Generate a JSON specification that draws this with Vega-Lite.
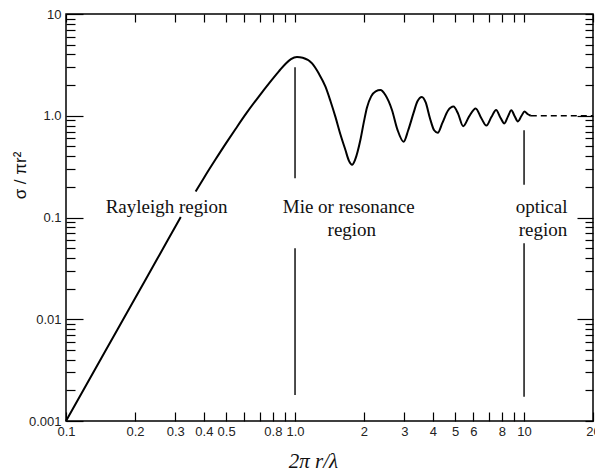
{
  "$schema": "https://vega.github.io/schema/vega-lite/v6.json",
  "width": 527,
  "height": 407,
  "autosize": "none",
  "padding": {"left": 66, "top": 14, "right": 2, "bottom": 54},
  "background": "white",
  "config": {
    "view": {"stroke": "black", "strokeWidth": 1.5},
    "axis": {"domain": false, "grid": false, "tickColor": "black", "tickWidth": 1.2, "labelColor": "#222", "labelFont": "Liberation Sans", "labelFontSize": 13, "labelOverlap": false, "labelFlush": false}
  },
  "datasets": {
    "curve": [
      {"seg": 1, "x": 0.1, "y": 0.001},
      {"seg": 1, "x": 0.15, "y": 0.00506},
      {"seg": 1, "x": 0.2, "y": 0.016},
      {"seg": 1, "x": 0.25, "y": 0.039},
      {"seg": 1, "x": 0.3, "y": 0.081},
      {"seg": 1, "x": 0.317, "y": 0.101},
      {"seg": 2, "x": 0.368, "y": 0.18},
      {"seg": 2, "x": 0.4, "y": 0.245},
      {"seg": 2, "x": 0.45, "y": 0.373},
      {"seg": 2, "x": 0.5, "y": 0.538},
      {"seg": 2, "x": 0.55, "y": 0.741},
      {"seg": 2, "x": 0.608, "y": 1.03},
      {"seg": 2, "x": 0.7, "y": 1.58},
      {"seg": 2, "x": 0.77, "y": 2.08},
      {"seg": 2, "x": 0.85, "y": 2.73},
      {"seg": 2, "x": 0.91, "y": 3.25},
      {"seg": 2, "x": 0.96, "y": 3.6},
      {"seg": 2, "x": 1.02, "y": 3.78},
      {"seg": 2, "x": 1.08, "y": 3.72},
      {"seg": 2, "x": 1.187, "y": 3.27},
      {"seg": 2, "x": 1.27, "y": 2.6},
      {"seg": 2, "x": 1.358, "y": 1.93},
      {"seg": 2, "x": 1.43, "y": 1.38},
      {"seg": 2, "x": 1.5, "y": 0.98},
      {"seg": 2, "x": 1.58, "y": 0.65},
      {"seg": 2, "x": 1.66, "y": 0.46},
      {"seg": 2, "x": 1.72, "y": 0.36},
      {"seg": 2, "x": 1.775, "y": 0.33},
      {"seg": 2, "x": 1.83, "y": 0.37},
      {"seg": 2, "x": 1.93, "y": 0.58},
      {"seg": 2, "x": 2.0, "y": 0.88},
      {"seg": 2, "x": 2.06, "y": 1.2},
      {"seg": 2, "x": 2.15, "y": 1.55},
      {"seg": 2, "x": 2.25, "y": 1.74},
      {"seg": 2, "x": 2.36, "y": 1.79},
      {"seg": 2, "x": 2.48, "y": 1.6},
      {"seg": 2, "x": 2.65, "y": 1.14},
      {"seg": 2, "x": 2.8, "y": 0.73},
      {"seg": 2, "x": 2.98, "y": 0.555},
      {"seg": 2, "x": 3.12, "y": 0.72},
      {"seg": 2, "x": 3.29, "y": 1.06},
      {"seg": 2, "x": 3.42, "y": 1.38},
      {"seg": 2, "x": 3.58, "y": 1.53},
      {"seg": 2, "x": 3.72, "y": 1.35},
      {"seg": 2, "x": 3.88, "y": 0.95},
      {"seg": 2, "x": 4.05, "y": 0.72},
      {"seg": 2, "x": 4.2, "y": 0.68},
      {"seg": 2, "x": 4.4, "y": 0.85},
      {"seg": 2, "x": 4.65, "y": 1.12},
      {"seg": 2, "x": 4.92, "y": 1.23},
      {"seg": 2, "x": 5.15, "y": 1.05},
      {"seg": 2, "x": 5.42, "y": 0.79},
      {"seg": 2, "x": 5.75, "y": 0.98},
      {"seg": 2, "x": 6.15, "y": 1.18},
      {"seg": 2, "x": 6.5, "y": 0.95},
      {"seg": 2, "x": 6.85, "y": 0.8},
      {"seg": 2, "x": 7.2, "y": 0.97},
      {"seg": 2, "x": 7.55, "y": 1.14},
      {"seg": 2, "x": 7.9, "y": 0.95},
      {"seg": 2, "x": 8.2, "y": 0.84},
      {"seg": 2, "x": 8.5, "y": 0.98},
      {"seg": 2, "x": 8.8, "y": 1.13},
      {"seg": 2, "x": 9.1, "y": 0.99},
      {"seg": 2, "x": 9.4, "y": 0.88},
      {"seg": 2, "x": 9.75, "y": 1.0},
      {"seg": 2, "x": 10.05, "y": 1.1},
      {"seg": 2, "x": 10.35, "y": 1.04},
      {"seg": 2, "x": 10.7, "y": 1.0}
    ],
    "dashed": [
      {"x": 10.7, "y": 1.0},
      {"x": 20, "y": 1.0}
    ],
    "rules": [
      {"x": 1, "y": 3.0, "y2": 0.243},
      {"x": 1, "y": 0.05, "y2": 0.0018},
      {"x": 10, "y": 0.72, "y2": 0.21},
      {"x": 10, "y": 0.0557, "y2": 0.00173}
    ],
    "labels": [
      {"text": "Rayleigh region", "x": 0.275, "y": 0.1106},
      {"text": "Mie or resonance", "x": 1.715, "y": 0.1106},
      {"text": "region", "x": 1.77, "y": 0.0658},
      {"text": "optical", "x": 11.93, "y": 0.1106},
      {"text": "region", "x": 12.1, "y": 0.0658}
    ]
  },
  "layer": [
    {
      "data": {"name": "curve"},
      "mark": {"type": "line", "color": "black", "strokeWidth": 2, "interpolate": "monotone"},
      "encoding": {
        "x": {
          "field": "x", "type": "quantitative",
          "scale": {"type": "log", "domain": [0.1, 20], "nice": false},
          "axis": {
            "orient": "bottom",
            "values": [0.1, 0.2, 0.3, 0.4, 0.5, 0.6, 0.7, 0.8, 0.9, 1, 2, 3, 4, 5, 6, 7, 8, 9, 10, 20],
            "tickSize": -9,
            "labelPadding": 13,
            "labelExpr": "datum.value == 1 ? '1.0' : (indexof([0.6, 0.7, 0.9, 7, 9], datum.value) >= 0 ? '' : '' + datum.value)",
            "title": "2π r/λ",
            "titleFont": "Liberation Serif",
            "titleFontSize": 21,
            "titleFontWeight": "normal",
            "titleFontStyle": "italic",
            "titleColor": "#111",
            "titleX": 247,
            "titleY": 40,
            "titleBaseline": "middle",
            "titleAlign": "center"
          }
        },
        "y": {
          "field": "y", "type": "quantitative",
          "scale": {"type": "log", "domain": [0.001, 10], "nice": false},
          "axis": {
            "orient": "left",
            "values": [0.001, 0.002, 0.003, 0.004, 0.005, 0.006, 0.007, 0.008, 0.009, 0.01, 0.02, 0.03, 0.04, 0.05, 0.06, 0.07, 0.08, 0.09, 0.1, 0.2, 0.3, 0.4, 0.5, 0.6, 0.7, 0.8, 0.9, 1, 2, 3, 4, 5, 6, 7, 8, 9, 10],
            "tickSize": {"condition": {"test": "datum.value == 0.001 || datum.value == 0.01 || datum.value == 0.1 || datum.value == 1 || datum.value == 10", "value": -17}, "value": -9},
            "labelPadding": 22,
            "labelExpr": "datum.value == 0.001 ? '0.001' : datum.value == 0.01 ? '0.01' : datum.value == 0.1 ? '0.1' : datum.value == 1 ? '1.0' : datum.value == 10 ? '10' : ''",
            "title": "σ / πr²",
            "titleFont": "Liberation Sans",
            "titleFontSize": 17,
            "titleFontWeight": "normal",
            "titleColor": "#111",
            "titleX": -46,
            "titleY": 161,
            "titleAlign": "center",
            "titleBaseline": "middle"
          }
        },
        "detail": {"field": "seg", "type": "nominal"}
      }
    },
    {
      "data": {"name": "dashed"},
      "mark": {"type": "line", "color": "black", "strokeWidth": 1.6, "strokeDash": [6, 4]},
      "encoding": {
        "x": {
          "field": "x", "type": "quantitative",
          "scale": {"type": "log", "domain": [0.1, 20], "nice": false},
          "axis": {
            "orient": "top",
            "values": [0.1, 0.2, 0.3, 0.4, 0.5, 0.6, 0.7, 0.8, 0.9, 1, 2, 3, 4, 5, 6, 7, 8, 9, 10, 20],
            "tickSize": -8,
            "labels": false,
            "title": null
          }
        },
        "y": {
          "field": "y", "type": "quantitative",
          "scale": {"type": "log", "domain": [0.001, 10], "nice": false},
          "axis": null
        }
      }
    },
    {
      "data": {"name": "rules"},
      "mark": {"type": "rule", "color": "black", "strokeWidth": 1.4},
      "encoding": {
        "x": {"field": "x", "type": "quantitative", "scale": {"type": "log", "domain": [0.1, 20], "nice": false}, "axis": null},
        "y": {
          "field": "y", "type": "quantitative",
          "scale": {"type": "log", "domain": [0.001, 10], "nice": false},
          "axis": {
            "orient": "right",
            "values": [0.001, 0.002, 0.003, 0.004, 0.005, 0.006, 0.007, 0.008, 0.009, 0.01, 0.02, 0.03, 0.04, 0.05, 0.06, 0.07, 0.08, 0.09, 0.1, 0.2, 0.3, 0.4, 0.5, 0.6, 0.7, 0.8, 0.9, 1, 2, 3, 4, 5, 6, 7, 8, 9, 10],
            "tickSize": {"condition": {"test": "datum.value == 0.01 || datum.value == 0.1 || datum.value == 1", "value": -16}, "value": -8},
            "labels": false,
            "title": null
          }
        },
        "y2": {"field": "y2"}
      }
    },
    {
      "data": {"name": "labels"},
      "mark": {"type": "text", "font": "Liberation Serif", "fontSize": 19, "color": "#111", "align": "center", "baseline": "alphabetic"},
      "encoding": {
        "x": {"field": "x", "type": "quantitative", "scale": {"type": "log", "domain": [0.1, 20], "nice": false}, "axis": null},
        "y": {"field": "y", "type": "quantitative", "scale": {"type": "log", "domain": [0.001, 10], "nice": false}, "axis": null},
        "text": {"field": "text", "type": "nominal"}
      }
    }
  ]
}
